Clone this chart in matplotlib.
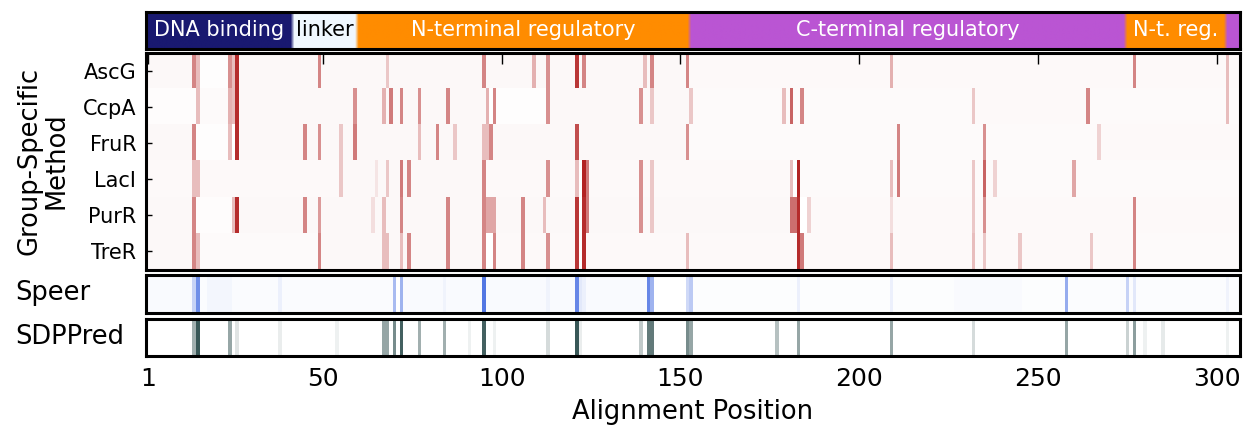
import numpy as np
import matplotlib
matplotlib.use("Agg")
import matplotlib.pyplot as plt
from matplotlib.colors import LinearSegmentedColormap, to_rgb

n_positions = 306
groups = ["AscG", "CcpA", "FruR", "LacI", "PurR", "TreR"]
position_ticks = [1, 50, 100, 150, 200, 250, 300]

# protein domains along the alignment (1-based, inclusive)
domain_names = ["DNA binding", "linker", "N-terminal regulatory",
                "C-terminal regulatory", "N-t. reg.", ""]
domain_starts = [1, 42, 60, 153, 275, 303]
domain_ends = [41, 59, 152, 274, 302, 306]
domain_colors = ["midnightblue", "aliceblue", "darkorange",
                 "mediumorchid", "darkorange", "mediumorchid"]
domain_text_colors = ["white", "black", "white", "white", "white", "white"]

# group-specific scores: position -> score
ascg_marks = {14: 0.55, 15: 0.3, 24: 0.5, 25: 0.3, 26: 0.95, 49: 0.55, 68: 0.25,
              95: 0.55, 109: 0.35, 113: 0.5, 121: 0.9, 123: 0.55, 140: 0.3,
              142: 0.55, 152: 0.55, 209: 0.35, 277: 0.55, 303: 0.3}
ccpa_marks = {15: 0.3, 24: 0.35, 25: 0.3, 26: 0.95, 59: 0.5, 67: 0.35, 69: 0.6,
              72: 0.55, 77: 0.5, 85: 0.55, 96: 0.35, 98: 0.55, 113: 0.5,
              139: 0.5, 142: 0.25, 153: 0.25, 179: 0.3, 181: 0.7, 184: 0.55,
              232: 0.25, 264: 0.55, 303: 0.3}
frur_marks = {14: 0.55, 24: 0.3, 26: 0.95, 45: 0.55, 49: 0.5, 55: 0.25, 59: 0.6,
              77: 0.3, 82: 0.55, 87: 0.25, 95: 0.3, 96: 0.3, 97: 0.55,
              121: 0.8, 152: 0.5, 211: 0.55, 235: 0.5, 267: 0.2}
laci_marks = {14: 0.3, 15: 0.3, 55: 0.25, 65: 0.12, 68: 0.25, 72: 0.6, 74: 0.55,
              95: 0.55, 113: 0.5, 121: 0.3, 123: 1.0, 124: 0.6, 139: 0.5,
              142: 0.25, 181: 0.3, 183: 1.0, 209: 0.3, 211: 0.6, 232: 0.25,
              235: 0.7, 238: 0.2, 260: 0.4}
purr_marks = {14: 0.55, 25: 0.3, 26: 0.95, 45: 0.55, 49: 0.45, 64: 0.15, 67: 0.3,
              72: 0.55, 85: 0.55, 95: 0.55, 96: 0.4, 97: 0.4, 98: 0.4,
              106: 0.55, 112: 0.3, 121: 0.9, 123: 0.95, 124: 0.6, 139: 0.5,
              142: 0.25, 181: 0.65, 182: 0.65, 183: 0.95, 186: 0.2, 209: 0.15,
              232: 0.25, 235: 0.5, 277: 0.55}
trer_marks = {14: 0.55, 15: 0.3, 49: 0.55, 67: 0.3, 68: 0.3, 72: 0.3, 74: 0.55,
              85: 0.55, 95: 0.55, 98: 0.55, 106: 0.55, 113: 0.5, 121: 0.9,
              123: 0.95, 152: 0.3, 183: 0.95, 184: 0.6, 209: 0.3, 232: 0.3,
              235: 0.25, 245: 0.25, 265: 0.25, 277: 0.55}

# faintly tinted stretches per group: (start, end, score)
ascg_faint = [(1, 13, 0.035), (16, 23, 0.01), (27, 48, 0.035), (50, 94, 0.03),
              (96, 151, 0.03), (153, 276, 0.025), (278, 306, 0.025)]
ccpa_faint = [(1, 14, 0.015), (16, 23, 0.02), (27, 58, 0.03), (60, 95, 0.03),
              (99, 112, 0.01), (114, 152, 0.03), (154, 231, 0.02),
              (233, 263, 0.025), (265, 306, 0.02)]
frur_faint = [(1, 13, 0.03), (15, 23, 0.01), (27, 44, 0.03), (46, 94, 0.035),
              (98, 120, 0.03), (122, 151, 0.03), (153, 266, 0.02), (268, 306, 0.025)]
laci_faint = [(1, 13, 0.025), (16, 54, 0.025), (56, 94, 0.03), (96, 120, 0.025),
              (125, 180, 0.025), (184, 306, 0.02)]
purr_faint = [(1, 13, 0.03), (15, 24, 0.015), (27, 44, 0.03), (46, 94, 0.03),
              (99, 120, 0.03), (125, 180, 0.03), (187, 276, 0.025), (278, 306, 0.025)]
trer_faint = [(1, 13, 0.03), (16, 48, 0.02), (50, 94, 0.03), (99, 120, 0.025),
              (124, 182, 0.025), (185, 276, 0.025), (278, 306, 0.02)]

# Speer and SDPPred predictions
speer_marks = {14: 0.3, 15: 0.75, 38: 0.1, 70: 0.45, 72: 0.5, 84: 0.08, 95: 0.9,
               113: 0.08, 121: 0.8, 122: 0.15, 123: 0.1, 141: 0.8, 142: 0.5,
               152: 0.25, 153: 0.35, 183: 0.1, 209: 0.1, 258: 0.55, 275: 0.3,
               277: 0.15, 303: 0.08}
speer_faint = [(1, 13, 0.03), (16, 17, 0.02), (18, 24, 0.06), (25, 69, 0.025),
               (73, 94, 0.03), (96, 120, 0.03), (124, 140, 0.035), (154, 226, 0.015),
               (227, 245, 0.035), (246, 257, 0.015), (259, 306, 0.02)]
sdppred_marks = {14: 0.45, 15: 0.95, 24: 0.5, 26: 0.15, 38: 0.1, 54: 0.08,
                 67: 0.5, 68: 0.5, 70: 0.65, 72: 0.9, 77: 0.45, 84: 0.45,
                 91: 0.08, 95: 0.9, 98: 0.08, 113: 0.2, 121: 0.95, 122: 0.1,
                 139: 0.3, 141: 0.75, 142: 0.75, 152: 0.65, 153: 0.5, 177: 0.35,
                 183: 0.5, 209: 0.5, 232: 0.2, 258: 0.5, 275: 0.25, 277: 0.55,
                 280: 0.08, 285: 0.12, 303: 0.08}
sdppred_faint = []


def score_row(marks, faint):
    row = np.zeros(n_positions)
    for start, end, s in faint:
        row[start - 1:end] = s
    for pos, s in marks.items():
        row[pos - 1] = s
    return row


group_scores = np.vstack([
    score_row(ascg_marks, ascg_faint),
    score_row(ccpa_marks, ccpa_faint),
    score_row(frur_marks, frur_faint),
    score_row(laci_marks, laci_faint),
    score_row(purr_marks, purr_faint),
    score_row(trer_marks, trer_faint),
])
speer_scores = score_row(speer_marks, speer_faint)[None, :]
sdppred_scores = score_row(sdppred_marks, sdppred_faint)[None, :]

reds = LinearSegmentedColormap.from_list("w_red", ["white", "firebrick"])
blues = LinearSegmentedColormap.from_list("w_blue", ["white", "royalblue"])
greys = LinearSegmentedColormap.from_list("w_grey", ["white", "darkslategray"])

W, H = 1244, 426
fig = plt.figure(figsize=(W / 100, H / 100), dpi=100)


def px_axes(x0, y0, x1, y1):
    return fig.add_axes([x0 / W, 1 - y1 / H, (x1 - x0) / W, (y1 - y0) / H])


left, right = 146, 1240
ax_dom = px_axes(left, 12, right, 49)
ax_hm = px_axes(left, 53, right, 269.5)
ax_sp = px_axes(left, 274.5, right, 312.5)
ax_sd = px_axes(left, 318.5, right, 355.5)
extent_x = (0.5, n_positions + 0.5)

# domain bar
dom_rgb = np.ones((1, n_positions, 3))
for s, e, c in zip(domain_starts, domain_ends, domain_colors):
    dom_rgb[0, s - 1:e] = to_rgb(c)
ax_dom.imshow(dom_rgb, aspect="auto", interpolation="bilinear",
              extent=(*extent_x, 0, 1))
for name, s, e, tc in zip(domain_names, domain_starts, domain_ends, domain_text_colors):
    if name:
        ax_dom.text((s + e) / 2, 0.5, name, ha="center", va="center",
                    color=tc, fontsize=15)
ax_dom.set_xticks([])
ax_dom.set_yticks([])

# group-specific heatmap
ax_hm.imshow(group_scores, cmap=reds, vmin=0, vmax=1, aspect="auto",
             interpolation="nearest", extent=(*extent_x, len(groups) - 0.5, -0.5))
ax_hm.set_yticks(range(len(groups)))
ax_hm.set_yticklabels(groups, fontsize=15)
ax_hm.set_xticks(position_ticks)
ax_hm.tick_params(axis="x", top=True, bottom=False, labelbottom=False,
                  direction="in", length=8, width=1)
ax_hm.tick_params(axis="y", direction="in", length=4, width=1, pad=7)

ax_sp.imshow(speer_scores, cmap=blues, vmin=0, vmax=1, aspect="auto",
             interpolation="nearest", extent=(*extent_x, 0, 1))
ax_sp.set_xticks([])
ax_sp.set_yticks([])

ax_sd.imshow(sdppred_scores, cmap=greys, vmin=0, vmax=1, aspect="auto",
             interpolation="nearest", extent=(*extent_x, 0, 1))
ax_sd.set_yticks([])
ax_sd.set_xticks(position_ticks)
ax_sd.tick_params(axis="x", length=0, pad=8, labelsize=18)
ax_sd.set_xlabel("Alignment Position", fontsize=18.5, labelpad=6)

for ax in (ax_dom, ax_hm, ax_sp, ax_sd):
    ax.set_xlim(*extent_x)
    for sp in ax.spines.values():
        sp.set_linewidth(2.2)

fig.text(15 / W, 1 - 293.5 / H, "Speer", ha="left", va="center", fontsize=18.5)
fig.text(15 / W, 1 - 337 / H, "SDPPred", ha="left", va="center", fontsize=18.5)
fig.text(43 / W, 1 - 161 / H, "Group-Specific\nMethod", rotation=90,
         ha="center", va="center", fontsize=18.5, multialignment="center",
         linespacing=1.05)

fig.savefig("out.png", dpi=100)
